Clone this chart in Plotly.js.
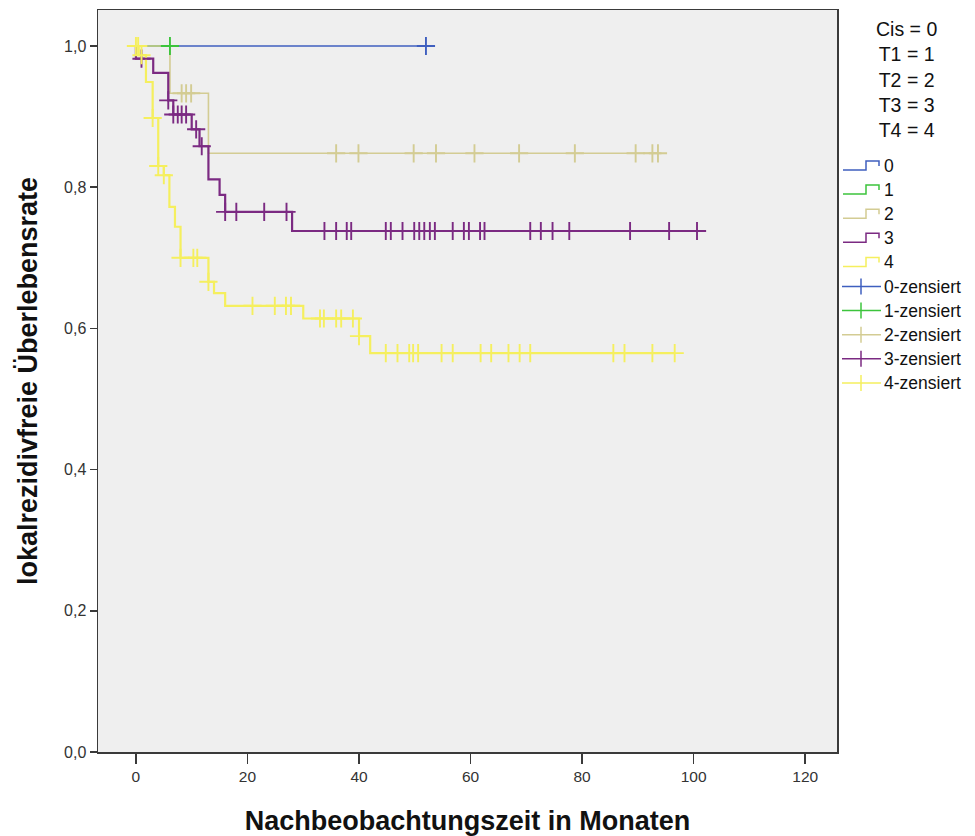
<!DOCTYPE html>
<html>
<head>
<meta charset="utf-8">
<script src="https://cdn.plot.ly/plotly-3.0.1.min.js"></script>
<style>html,body{margin:0;padding:0;background:#fff;}#chart{width:975px;height:836px;}</style>
</head>
<body>
<div id="chart"></div>
<script>
// ---- data ----
const groupNames = ["0", "1", "2", "3", "4"];
const censorNames = ["0-zensiert", "1-zensiert", "2-zensiert", "3-zensiert", "4-zensiert"];
const legendTitle = ["Cis = 0", "T1 = 1", "T2 = 2", "T3 = 3", "T4 = 4"];

// step times and survival level after each step
const times0 = [0];
const surv0 = [1.0];
const cens0 = [52.0];

const times1 = [0];
const surv1 = [1.0];
const cens1 = [6.1];

const times2 = [0, 6.1, 13.0];
const surv2 = [1.0, 0.933, 0.848];
const cens2 = [8.2, 9.0, 9.9, 35.9, 39.9, 49.8, 53.8, 60.7, 68.7, 78.7, 89.6, 92.6, 93.6];

const times3 = [0, 0, 3.1, 5.8, 6.7, 10.0, 11.4, 13.0, 15.0, 16.0, 28.0];
const surv3 = [1.0, 0.982, 0.962, 0.923, 0.903, 0.882, 0.858, 0.811, 0.789, 0.765, 0.738];
const cens3 = [1.0, 5.8, 6.7, 7.5, 8.2, 9.0, 10.8, 11.8, 16.0, 18.0, 23.0, 27.0,
  33.8, 35.9, 37.8, 38.6, 44.8, 45.7, 47.8, 49.9, 50.8, 51.7, 52.7, 53.6,
  56.8, 58.8, 59.7, 61.7, 62.5, 70.7, 72.6, 74.7, 77.7, 88.6, 95.6, 100.6];

const times4 = [0, 0.5, 1.8, 3.0, 4.0, 5.0, 6.0, 7.0, 8.0, 13.0, 14.0, 16.0, 30.0, 40.0, 42.0];
const surv4 = [1.0, 0.987, 0.949, 0.898, 0.830, 0.817, 0.772, 0.744, 0.700, 0.666, 0.650, 0.632, 0.614, 0.589, 0.565];
const cens4 = [0, 0.4, 1.0, 3.0, 4.0, 5.0, 8.0, 10.3, 11.0, 13.0, 20.9, 24.9, 26.9, 27.8,
  33.0, 33.7, 35.9, 36.8, 38.9, 40.0, 44.8, 46.9, 49.0, 49.7, 50.6, 54.8, 56.8,
  61.8, 63.7, 66.8, 68.8, 70.7, 85.6, 87.6, 92.6, 96.6];

const xTicks = [0, 20, 40, 60, 80, 100, 120];
const yTicks = [0, 0.2, 0.4, 0.6, 0.8, 1.0];

// ---- styling ----
const colors = ["#3f5fbf", "#3cc43c", "#d3cc93", "#7b2a82", "#f5ef5e"];
const lineWidths = [1.6, 1.6, 1.6, 2.2, 2.2];

const allTimes = [times0, times1, times2, times3, times4];
const allSurv = [surv0, surv1, surv2, surv3, surv4];
const allCens = [cens0, cens1, cens2, cens3, cens4];

function stepAt(ts, ss, t) {
  let v = ss[0];
  for (let i = 0; i < ts.length; i++) { if (ts[i] <= t) v = ss[i]; }
  return v;
}

const traces = [];
for (let g = 0; g < 5; g++) {
  const ts = allTimes[g], ss = allSurv[g], cs = allCens[g];
  const endT = Math.max(ts[ts.length - 1], cs.length ? Math.max(...cs) : 0);
  traces.push({
    type: "scatter", mode: "lines", name: groupNames[g], showlegend: false,
    x: ts.concat([endT]), y: ss.concat([ss[ss.length - 1]]),
    line: {shape: "hv", color: colors[g], width: lineWidths[g]},
    hoverinfo: "skip"
  });
}
for (let g = 0; g < 5; g++) {
  const ts = allTimes[g], ss = allSurv[g], cs = allCens[g];
  traces.push({
    type: "scatter", mode: "markers", name: censorNames[g], showlegend: false,
    x: cs, y: cs.map(t => stepAt(ts, ss, t)),
    marker: {symbol: "cross-thin", size: 13, line: {color: colors[g], width: 1.9}},
    hoverinfo: "skip"
  });
}

// ---- manual SPSS-like legend ----
const PL = 98, PR = 837, PT = 10, PB = 752;
const px = x => (x - PL) / (PR - PL);
const py = y => (PB - y) / (PB - PT);
const FONT = "Liberation Sans, Arial, sans-serif";

const shapes = [];
const annotations = [];
annotations.push({
  xref: "paper", yref: "paper", x: px(906), y: py(80), xanchor: "center", yanchor: "middle",
  text: legendTitle.join("<br>"), showarrow: false, align: "center",
  font: {family: FONT, size: 19.5, color: "#111"}
});
const rowY0 = 166, rowStep = 24.1;
for (let g = 0; g < 5; g++) {
  const y = rowY0 + g * rowStep;
  shapes.push({
    type: "path", xref: "paper", yref: "paper",
    path: `M ${px(843)},${py(y + 4)} L ${px(866)},${py(y + 4)} L ${px(866)},${py(y - 5)} L ${px(879)},${py(y - 5)} L ${px(879)},${py(y)}`,
    line: {color: colors[g], width: 1.5}
  });
  annotations.push({
    xref: "paper", yref: "paper", x: px(882), y: py(y), xanchor: "left", yanchor: "middle",
    text: groupNames[g], showarrow: false,
    font: {family: FONT, size: 17.5, color: "#111"}
  });
}
for (let g = 0; g < 5; g++) {
  const y = rowY0 + (g + 5) * rowStep;
  shapes.push({type: "line", xref: "paper", yref: "paper",
    x0: px(842), x1: px(881), y0: py(y), y1: py(y), line: {color: colors[g], width: 1.5}});
  shapes.push({type: "line", xref: "paper", yref: "paper",
    x0: px(861), x1: px(861), y0: py(y - 8), y1: py(y + 8), line: {color: colors[g], width: 1.5}});
  annotations.push({
    xref: "paper", yref: "paper", x: px(882), y: py(y), xanchor: "left", yanchor: "middle",
    text: censorNames[g], showarrow: false,
    font: {family: FONT, size: 17.5, color: "#111"}
  });
}

const layout = {
  width: 975, height: 836,
  margin: {l: PL, r: 975 - PR, t: PT, b: 836 - PB},
  paper_bgcolor: "#ffffff", plot_bgcolor: "#efefef",
  separators: ",.",
  showlegend: false,
  xaxis: {
    range: [-6.8, 125.7], tickvals: xTicks, ticktext: xTicks.map(String),
    showgrid: false, zeroline: false, showline: true, mirror: true,
    linecolor: "#3a3a3a", linewidth: 1.5,
    ticks: "outside", ticklen: 10, tickcolor: "#3a3a3a", tickwidth: 1.5,
    tickfont: {family: FONT, size: 15.5, color: "#333"},
    title: {text: "<b>Nachbeobachtungszeit in Monaten</b>", standoff: 27,
      font: {family: FONT, size: 27, color: "#111"}}
  },
  yaxis: {
    range: [0, 1.051], tickvals: yTicks, tickformat: ".1f",
    showgrid: false, zeroline: false, showline: true, mirror: true,
    linecolor: "#3a3a3a", linewidth: 1.5,
    ticks: "outside", ticklen: 7, tickcolor: "#3a3a3a", tickwidth: 1.5,
    tickfont: {family: FONT, size: 16, color: "#333"},
    title: {text: "<b>lokalrezidivfreie Überlebensrate</b>", standoff: 18,
      font: {family: FONT, size: 27, color: "#111"}}
  },
  shapes: shapes,
  annotations: annotations
};

Plotly.newPlot("chart", traces, layout, {displayModeBar: false, staticPlot: true});
</script>
</body>
</html>
